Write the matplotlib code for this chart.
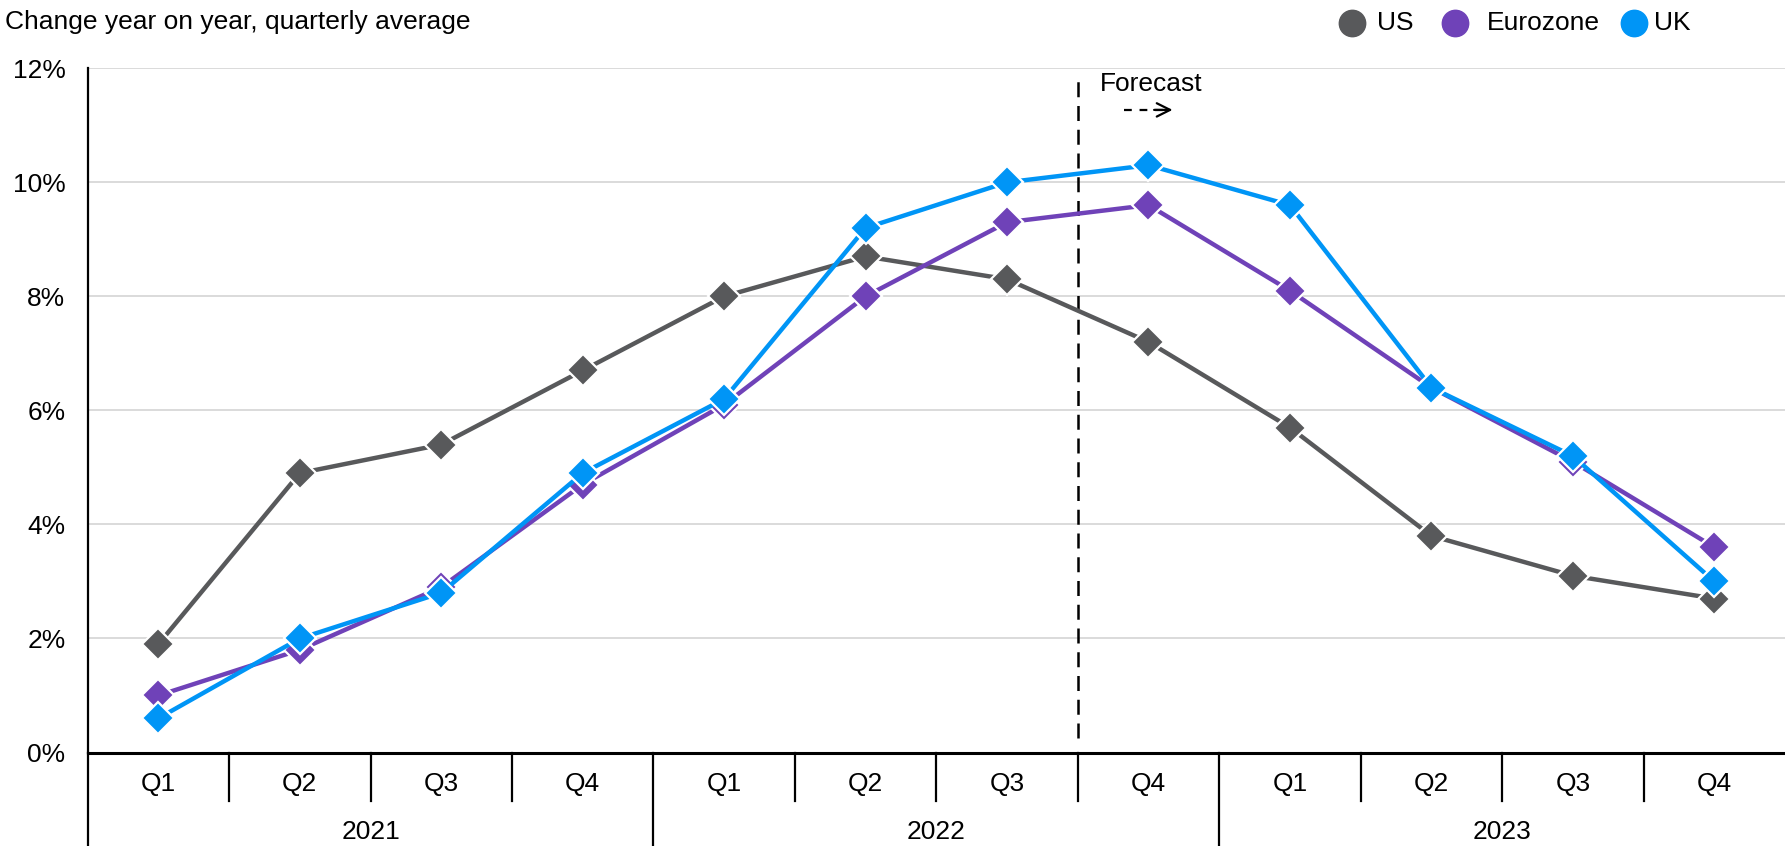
import matplotlib
matplotlib.use("Agg")
import matplotlib.pyplot as plt
from matplotlib.lines import Line2D
from matplotlib.transforms import blended_transform_factory

plt.rcParams['font.family'] = ['Liberation Sans', 'DejaVu Sans']

quarters = ["Q1", "Q2", "Q3", "Q4"] * 3
years = ["2021", "2022", "2023"]
us = [1.9, 4.9, 5.4, 6.7, 8.0, 8.7, 8.3, 7.2, 5.7, 3.8, 3.1, 2.7]
eurozone = [1.0, 1.8, 2.9, 4.7, 6.1, 8.0, 9.3, 9.6, 8.1, 6.4, 5.1, 3.6]
uk = [0.6, 2.0, 2.8, 4.9, 6.2, 9.2, 10.0, 10.3, 9.6, 6.4, 5.2, 3.0]
yticks = [0, 2, 4, 6, 8, 10, 12]
forecast_start = 7  # index of first forecast quarter

series = [("US", us, "#58595b"), ("Eurozone", eurozone, "#6f42b8"), ("UK", uk, "#0095f6")]

FS = 19
W, H = 1785.0, 846.0

fig = plt.figure(figsize=(W / 100, H / 100), dpi=100)
ax = fig.add_axes([0.0491, 0.1105, 0.9509, 0.8088])

x = list(range(len(quarters)))
for name, vals, col in series:
    ax.plot(x, vals, color=col, lw=3.2, marker="D", markersize=16,
            markeredgecolor="white", markeredgewidth=1.6, zorder=3, clip_on=False)

ax.set_xlim(-0.5, len(quarters) - 0.5)
ax.set_ylim(0, 12)
ax.set_yticks(yticks)
ax.set_yticklabels([f"{v}%" for v in yticks], fontsize=FS)
ax.tick_params(axis="y", length=0, pad=16)
ax.set_xticks([])
ax.grid(axis="y", color="#d4d4d4", lw=1.2)
ax.set_axisbelow(True)
for s in ["top", "right"]:
    ax.spines[s].set_visible(False)
ax.spines["left"].set_linewidth(1.6)
ax.spines["bottom"].set_linewidth(2.2)
ax.spines["left"].set_zorder(4)
ax.spines["bottom"].set_zorder(4)

# forecast divider
xf = forecast_start - 0.5
ax.plot([xf, xf], [0.25, 11.9], color="black", lw=1.8, ls=(0, (6, 3.5)), zorder=2)
ax.text(forecast_start + 0.02, 11.72, "Forecast", ha="center", va="center", fontsize=FS)
ax.plot([forecast_start - 0.17, forecast_start + 0.1], [11.27, 11.27], color="black",
        lw=1.6, ls=(0, (3.5, 3.5)))
ax.annotate("", xy=(forecast_start + 0.19, 11.27), xytext=(forecast_start + 0.02, 11.27),
            arrowprops=dict(arrowstyle="->", color="black", lw=1.6, mutation_scale=24))

# two-level category axis
tr = blended_transform_factory(ax.transData, ax.transAxes)
ax_h = 0.8088 * H
def ay(px):
    # pixel offset below the x-axis expressed in axes fraction
    return -px / ax_h

for i, q in enumerate(quarters):
    ax.text(i, ay(31), q, transform=tr, ha="center", va="center", fontsize=FS)
    if i % 4 != 0:
        ax.plot([i - 0.5, i - 0.5], [0, ay(48)], transform=tr, color="black", lw=1.6,
                clip_on=False)
for j, yr in enumerate(years):
    ax.text(4 * j + 1.5, ay(79), yr, transform=tr, ha="center", va="center", fontsize=FS)
    ax.plot([4 * j - 0.5, 4 * j - 0.5], [0, ay(100)], transform=tr, color="black", lw=1.6,
            clip_on=False)

fig.text(0.003, 0.974, "Change year on year, quarterly average", ha="left", va="center",
         fontsize=FS)

# legend: circle swatch followed by label
legend_pos = [(1352, 1377), (1455, 1487), (1634, 1654)]
ly = 0.973
for (name, _, col), (cx, tx) in zip(series, legend_pos):
    fig.add_artist(Line2D([cx / W], [ly], ls="none", marker="o", markersize=19,
                          color=col, transform=fig.transFigure))
    fig.text(tx / W, ly, name, ha="left", va="center", fontsize=FS)

fig.savefig("out.png", dpi=100)
